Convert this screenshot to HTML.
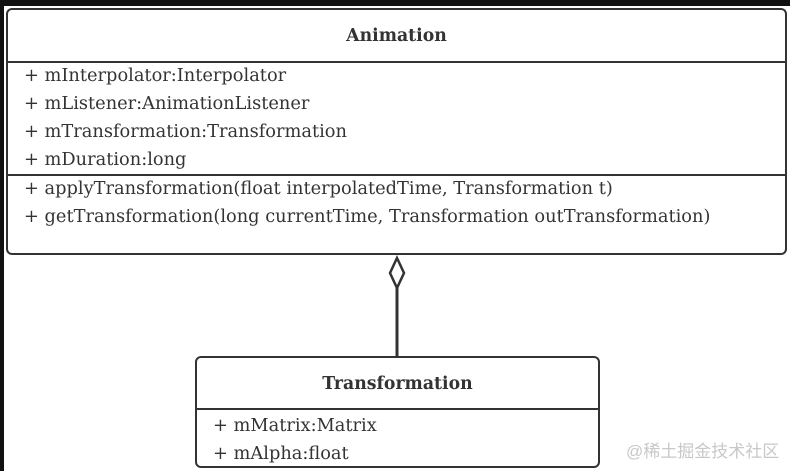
<!DOCTYPE html>
<html><head><style>
html,body{margin:0;padding:0;}
body{width:790px;height:471px;overflow:hidden;background:#fff;position:relative;font-family:"DejaVu Serif",serif;color:#333;}
.topbar{position:absolute;left:0;top:0;width:790px;height:6px;background:#111;}
.leftbar{position:absolute;left:0;top:0;width:4px;height:471px;background:#111;}
.box{position:absolute;border:2.5px solid #333;border-radius:6px;box-sizing:border-box;background:#fff;}
.hdr{font-weight:bold;font-size:17.3px;text-align:center;box-sizing:border-box;border-bottom:2px solid #333;}
.sec{box-sizing:border-box;padding-left:16px;font-size:17.8px;}
.sec div{height:28px;line-height:26px;white-space:nowrap;}
.wm{position:absolute;left:626px;top:437px;font-family:"Liberation Sans","Noto Sans CJK SC",sans-serif;font-size:17px;color:#c8c8c8;}
</style></head><body>
<div class="topbar"></div><div class="leftbar"></div>
<div class="box" style="left:6px;top:8px;width:781px;height:247px;">
 <div class="hdr" style="height:53px;line-height:52px;">Animation</div>
 <div class="sec" style="height:113px;border-bottom:2px solid #333;">
  <div>+ mInterpolator:Interpolator</div>
  <div>+ mListener:AnimationListener</div>
  <div>+ mTransformation:Transformation</div>
  <div>+ mDuration:long</div>
 </div>
 <div class="sec">
  <div>+ applyTransformation(float interpolatedTime, Transformation t)</div>
  <div>+ getTransformation(long currentTime, Transformation outTransformation)</div>
 </div>
</div>
<svg style="position:absolute;left:0;top:0" width="790" height="471">
 <line x1="397" y1="288" x2="397" y2="357" stroke="#333" stroke-width="3"/>
 <polygon points="397,258 404,273 397,288 390,273" fill="#fff" stroke="#333" stroke-width="2.5"/>
</svg>
<div class="box" style="left:195px;top:356px;width:405px;height:112px;">
 <div class="hdr" style="height:52px;line-height:52px;">Transformation</div>
 <div class="sec" style="padding-top:3px;">
  <div>+ mMatrix:Matrix</div>
  <div>+ mAlpha:float</div>
 </div>
</div>
<div class="wm">@稀土掘金技术社区</div>
</body></html>
